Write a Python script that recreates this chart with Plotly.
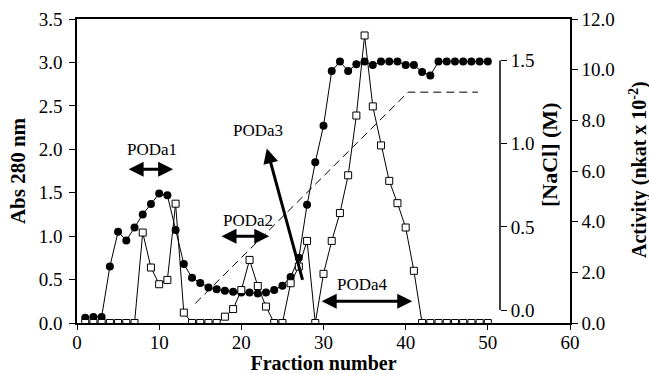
import plotly.graph_objects as go

fractions = list(range(1, 51))
abs280 = [0.06, 0.07, 0.07, 0.65, 1.05, 0.95, 1.10, 1.25, 1.37, 1.49,
          1.47, 1.07, 0.68, 0.52, 0.46, 0.41, 0.39, 0.37, 0.36, 0.35,
          0.35, 0.34, 0.35, 0.38, 0.43, 0.53, 0.75, 1.36, 1.85, 2.27,
          2.90, 3.01, 2.90, 2.98, 3.01, 2.97, 3.01, 3.01, 3.01, 2.97,
          2.97, 2.89, 2.85, 3.01, 3.01, 3.01, 3.01, 3.01, 3.01, 3.01]
activity = [0, 0, 0, 0, 0, 0, 0, 3.57, 2.19, 1.53,
            1.70, 4.71, 0.41, 0, 0, 0, 0, 0.25, 0.55, 1.30,
            2.49, 1.46, 0.65, 0, 0, 1.57, 2.23, 3.24, 0, 1.94,
            3.24, 4.34, 5.83, 8.19, 11.35, 8.55, 7.01, 5.61, 4.73, 3.77,
            2.06, 0, 0, 0, 0, 0, 0, 0, 0, 0]
nacl_x = [14.4, 40.3, 48.8]
nacl_y = [0.04, 1.31, 1.31]

peak_labels = ["PODa1", "PODa2", "PODa3", "PODa4"]
label_x = [9.1, 20.8, 22.0, 34.8]
label_y = [2.0, 1.18, 2.22, 0.44]
arrow_x0 = [6.1, 17.4, 27.5, 29.6]
arrow_y0 = [1.77, 1.00, 0.48, 0.25]
arrow_x1 = [11.7, 23.4, 23.1, 40.8]
arrow_y1 = [1.77, 1.00, 2.01, 0.25]
arrow_sides = ["end+start", "end+start", "end", "end+start"]

FONT = "Liberation Serif"
NACL_POS = 0.858
TICK = 19
TITLE = 20

fig = go.Figure()
fig.add_trace(go.Scatter(x=nacl_x, y=nacl_y, yaxis="y3", mode="lines",
                         line=dict(color="black", width=1, dash="8px,5px"),
                         showlegend=False, hoverinfo="skip"))
fig.add_trace(go.Scatter(x=fractions, y=abs280, mode="lines+markers",
                         line=dict(color="black", width=1),
                         marker=dict(symbol="circle", size=8, color="black"),
                         showlegend=False))
fig.add_trace(go.Scatter(x=fractions, y=activity, yaxis="y2", mode="lines+markers",
                         line=dict(color="black", width=1),
                         marker=dict(symbol="square", size=7, color="white",
                                     line=dict(color="black", width=1)),
                         showlegend=False))

annotations = []
for t, lx, ly in zip(peak_labels, label_x, label_y):
    annotations.append(dict(x=lx, y=ly, xref="x", yref="y", text=t, showarrow=False,
                            xanchor="center", yanchor="middle",
                            font=dict(family=FONT, size=17, color="black")))
for x0, y0, x1, y1, s in zip(arrow_x0, arrow_y0, arrow_x1, arrow_y1, arrow_sides):
    annotations.append(dict(x=x1, y=y1, ax=x0, ay=y0, xref="x", yref="y",
                            axref="x", ayref="y", text="", showarrow=True,
                            arrowhead=2, arrowsize=1, arrowwidth=3,
                            arrowcolor="black", arrowside=s))
# right-hand axis titles (positions in plot-box fractions)
annotations.append(dict(x=(550 - 77) / 493, y=(323 - 155) / 304, xref="paper", yref="paper",
                        xanchor="center", yanchor="middle",
                        text="<b>[NaCl] (M)</b>", showarrow=False, textangle=-90,
                        font=dict(family=FONT, size=22, color="black")))
annotations.append(dict(x=(638 - 77) / 493, y=(323 - 170) / 304, xref="paper", yref="paper",
                        xanchor="center", yanchor="middle",
                        text="<b>Activity (nkat x 10<sup>-2</sup>)</b>", showarrow=False,
                        textangle=-90, font=dict(family=FONT, size=TITLE, color="black")))

axis_common = dict(showline=True, linecolor="black", linewidth=1.5, ticks="outside",
                   tickcolor="black", showgrid=False, zeroline=False, automargin=False,
                   tickfont=dict(size=TICK))

fig.update_layout(
    width=649, height=374,
    margin=dict(l=77, r=79, t=19, b=51),
    plot_bgcolor="white", paper_bgcolor="white",
    font=dict(family=FONT, size=TICK, color="black"),
    xaxis=dict(range=[0, 60], dtick=10, mirror=True, ticklen=5, ticklabelstandoff=-4,
               title=dict(text="<b>Fraction number</b>", standoff=0,
                          font=dict(size=TITLE)), **axis_common),
    yaxis=dict(range=[0, 3.5], dtick=0.5, tickformat=".1f", ticklen=6, ticklabelstandoff=3,
               title=dict(text="<b>Abs 280 nm</b>", standoff=7, font=dict(size=21)),
               **axis_common),
    yaxis2=dict(range=[0, 12], dtick=2, tickformat=".1f", overlaying="y", side="right",
                ticklen=6, **axis_common),
    yaxis3=dict(range=[-0.078, 1.75], tickvals=[0, 0.5, 1.0, 1.5],
                ticktext=["0.0", "0.5", "1.0", "1.5"], overlaying="y", side="right",
                anchor="free", position=NACL_POS, showline=False, ticks="outside",
                ticklen=6, tickcolor="black", showgrid=False, zeroline=False,
                automargin=False, tickfont=dict(size=TICK)),
    annotations=annotations,
    shapes=[dict(type="line", xref="paper", yref="y3", x0=NACL_POS, x1=NACL_POS,
                 y0=0, y1=1.5, line=dict(color="black", width=1.5))],
)

# remove the browser's default 8px body margin so the figure fills the window exactly
fig.write_html("out.html", config={"displayModeBar": False},
               post_script="document.body.style.margin='0';document.body.style.overflow='hidden';")
